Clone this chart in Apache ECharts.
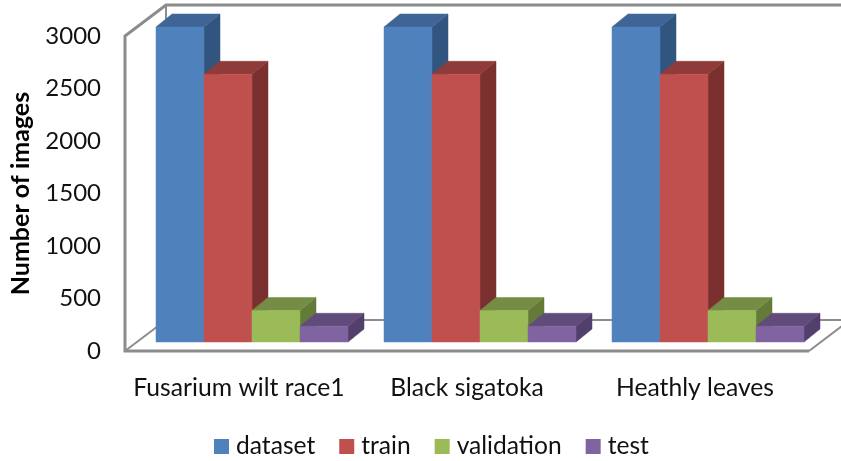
<!DOCTYPE html>
<html><head><meta charset="utf-8">
<style>html,body{margin:0;padding:0;background:#fff}#c{width:841px;height:461px}</style>
<script src="https://cdn.jsdelivr.net/npm/echarts@6/dist/echarts.min.js"></script>
</head><body><div id="c"></div>
<script>
const categories = ['Fusarium wilt race1', 'Black sigatoka', 'Heathly leaves'];
const dataset = [3000, 3000, 3000];
const train = [2550, 2550, 2550];
const validation = [300, 300, 300];
const test = [150, 150, 150];
const seriesNames = ['dataset', 'train', 'validation', 'test'];
const seriesValues = [dataset, train, validation, test];
const front = ['#4F81BD', '#C0504D', '#9BBB59', '#8064A2'];
const topFace = ['#3E6595', '#8E3B39', '#748C43', '#614B7B'];
const sideFace = ['#32557F', '#7A302E', '#647A39', '#533F6C'];
const FONT = 'Lato';
const WALL = '#8C8C8C';
// pseudo-3D offsets (px): bars' front plane, bar depth, back wall
const barDX = 13, barDY = -9, depthX = 16, depthY = -13, backX = 41, backY = -31;
const barShare = 48 / 228;

const chart = echarts.init(document.getElementById('c'), null, {renderer: 'canvas'});

function wallItem(params, api) {
  const c = params.coordSys;
  const l = c.x, r = c.x + c.width, t = c.y, b = c.y + c.height;
  const line = (pts, w) => ({type: 'polyline', shape: {points: pts},
    style: {stroke: WALL, lineWidth: w, fill: null}});
  return {type: 'group', children: [
    line([[l + backX, b + backY], [l, b]], 2),
    line([[l + backX, b + backY], [r + backX, b + backY]], 2),
    line([[l + backX, t + backY], [l + backX, b + backY]], 2),
    line([[r, b], [r + backX, b + backY]], 2),
    line([[r + backX, t + backY], [l + backX, t + backY], [l, t], [l, b], [r, b]], 3)
  ]};
}

function barItem(i) {
  return function (params, api) {
    const cat = api.value(0), val = api.value(1);
    const size = api.size([1, 0])[0];
    const w = size * barShare;
    const base = api.coord([cat, 0]);
    const tip = api.coord([cat, val]);
    const x0 = base[0] + (i - 2) * w + barDX, x1 = x0 + w;
    const y0 = base[1] + barDY, y1 = tip[1] + barDY;
    const poly = (pts, fill) => ({type: 'polygon', shape: {points: pts},
      style: {fill: fill, stroke: fill, lineWidth: 0.5}});
    return {type: 'group', children: [
      poly([[x1, y0], [x1 + depthX, y0 + depthY], [x1 + depthX, y1 + depthY], [x1, y1]], sideFace[i]),
      poly([[x0, y1], [x1, y1], [x1 + depthX, y1 + depthY], [x0 + depthX, y1 + depthY]], topFace[i]),
      poly([[x0, y0], [x1, y0], [x1, y1], [x0, y1]], front[i])
    ]};
  };
}

const series = [{
  type: 'custom', name: 'walls', silent: true, clip: false, z: 1,
  data: [[0, 0]], renderItem: wallItem, encode: {x: 0, y: 1}
}];
seriesNames.forEach((n, i) => series.push({
  type: 'custom', name: n, clip: false, z: 2 + i,
  itemStyle: {color: front[i]},
  encode: {x: 0, y: 1},
  data: seriesValues[i].map((v, k) => [k, v]),
  renderItem: barItem(i)
}));

chart.setOption({
  animation: false,
  backgroundColor: '#fff',
  grid: {left: 125, top: 36, width: 684, height: 315, outerBoundsMode: 'none'},
  xAxis: {
    type: 'category', data: categories,
    axisLine: {show: false}, axisTick: {show: false}, splitLine: {show: false},
    axisLabel: {color: '#111', fontFamily: FONT, fontSize: 24.7, margin: 25, interval: 0}
  },
  yAxis: {
    type: 'value', min: 0, max: 3000, interval: 500,
    name: 'Number of images', nameLocation: 'middle', nameGap: 92, nameRotate: 90,
    nameTextStyle: {color: '#000', fontFamily: FONT, fontSize: 25, fontWeight: 'bold'},
    axisLine: {show: false}, axisTick: {show: false}, splitLine: {show: false},
    axisLabel: {color: '#111', fontFamily: FONT, fontSize: 24, margin: 24, padding: [2, 0, 0, 0], formatter: v => String(v)}
  },
  legend: {
    data: seriesNames, left: 209, top: 429, icon: 'rect', itemWidth: 15, itemHeight: 15, itemGap: 24,
    textStyle: {color: '#111', fontFamily: FONT, fontSize: 24.6, padding: [0, 0, 0, 2]}
  },
  series: series
});
</script></body></html>
